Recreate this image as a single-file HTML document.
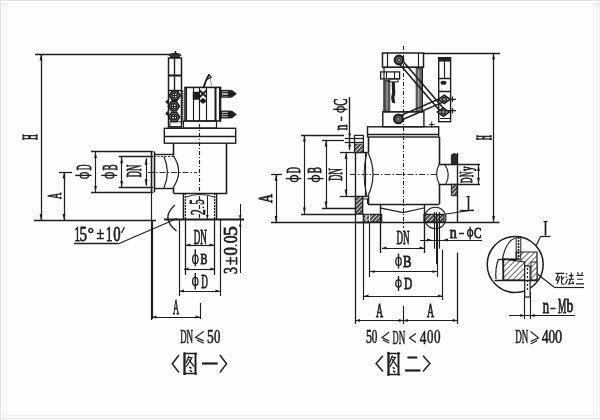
<!DOCTYPE html>
<html><head><meta charset="utf-8"><style>
html,body{margin:0;padding:0;background:#fdfdfd;}
svg{display:block;filter:grayscale(100%);}
</style></head><body>
<svg width="600" height="420" viewBox="0 0 600 420">
<rect x="0" y="0" width="600" height="420" fill="#fdfdfd"/>
<line x1="0" y1="0.5" x2="600" y2="0.5" stroke="#dcdcdc" stroke-width="1.00"/>
<line x1="0" y1="3.5" x2="600" y2="3.5" stroke="#f1f1f1" stroke-width="1.00"/>
<line x1="0" y1="6.5" x2="600" y2="6.5" stroke="#f3f3f3" stroke-width="1.00"/>
<line x1="0.5" y1="0" x2="0.5" y2="420" stroke="#e2e2e2" stroke-width="1.00"/>
<line x1="3.5" y1="0" x2="3.5" y2="420" stroke="#efefef" stroke-width="1.00"/>
<line x1="6.5" y1="0" x2="6.5" y2="420" stroke="#f2f2f2" stroke-width="1.00"/>
<line x1="593.5" y1="0" x2="593.5" y2="420" stroke="#f2f2f2" stroke-width="1.00"/>
<line x1="596.5" y1="0" x2="596.5" y2="420" stroke="#ececec" stroke-width="1.00"/>
<line x1="599.5" y1="0" x2="599.5" y2="420" stroke="#efefef" stroke-width="1.00"/>
<line x1="0" y1="415.5" x2="600" y2="415.5" stroke="#f2f2f2" stroke-width="1.00"/>
<line x1="0" y1="418.5" x2="600" y2="418.5" stroke="#ececec" stroke-width="1.00"/>
<defs><pattern id="hat2" patternUnits="userSpaceOnUse" width="3" height="3" patternTransform="rotate(45)"><rect width="3" height="3" fill="#444"/><line x1="1.5" y1="0" x2="1.5" y2="3" stroke="#e8e8e8" stroke-width="0.9"/></pattern></defs>
<line x1="35" y1="54.5" x2="170" y2="54.5" stroke="#1e1e1e" stroke-width="1.49"/>
<line x1="41.5" y1="54" x2="41.5" y2="220.5" stroke="#1e1e1e" stroke-width="1.26"/>
<path d="M41.00,54.00 L42.40,60.50 L39.60,60.50 Z" fill="#1e1e1e"/>
<path d="M41.00,220.50 L39.60,214.00 L42.40,214.00 Z" fill="#1e1e1e"/>
<text transform="translate(36.70,139.68) rotate(-90) scale(0.357,1)" font-family="Liberation Serif" font-size="20.46" fill="#1e1e1e" stroke="#1e1e1e" stroke-width="1.43">H</text>
<line x1="34" y1="220.5" x2="156" y2="220.5" stroke="#1e1e1e" stroke-width="1.49"/>
<line x1="59" y1="172.5" x2="72" y2="172.5" stroke="#1e1e1e" stroke-width="1.26"/>
<line x1="64.5" y1="172" x2="64.5" y2="220.5" stroke="#1e1e1e" stroke-width="1.26"/>
<path d="M64.00,172.00 L65.40,178.50 L62.60,178.50 Z" fill="#1e1e1e"/>
<path d="M64.00,220.50 L62.60,214.00 L65.40,214.00 Z" fill="#1e1e1e"/>
<text transform="translate(61.00,199.04) rotate(-90) scale(0.447,1)" font-family="Liberation Serif" font-size="19.85" fill="#1e1e1e" stroke="#1e1e1e" stroke-width="0.88">A</text>
<line x1="91" y1="151.5" x2="153" y2="151.5" stroke="#1e1e1e" stroke-width="1.38"/>
<line x1="91" y1="192.5" x2="153" y2="192.5" stroke="#1e1e1e" stroke-width="1.38"/>
<line x1="95.5" y1="151.4" x2="95.5" y2="192.4" stroke="#1e1e1e" stroke-width="1.15"/>
<path d="M95.50,151.40 L96.90,157.90 L94.10,157.90 Z" fill="#1e1e1e"/>
<path d="M95.50,192.40 L94.10,185.90 L96.90,185.90 Z" fill="#1e1e1e"/>
<text transform="translate(90.80,170.24) rotate(-90) scale(0.361,1)" font-family="Liberation Serif" font-size="21.98" fill="#1e1e1e" stroke="#1e1e1e" stroke-width="0.88">D</text>
<ellipse cx="84.40" cy="175.40" rx="4.20" ry="2.80" fill="none" stroke="#1e1e1e" stroke-width="1.3"/>
<line x1="75.2" y1="175.40" x2="91.6" y2="175.40" stroke="#1e1e1e" stroke-width="1.4"/>
<line x1="118.7" y1="156.5" x2="153" y2="156.5" stroke="#1e1e1e" stroke-width="1.38"/>
<line x1="118.7" y1="187.5" x2="153" y2="187.5" stroke="#1e1e1e" stroke-width="1.38"/>
<line x1="121.5" y1="156.7" x2="121.5" y2="187.4" stroke="#1e1e1e" stroke-width="1.15"/>
<path d="M121.70,156.70 L123.10,163.20 L120.30,163.20 Z" fill="#1e1e1e"/>
<path d="M121.70,187.40 L120.30,180.90 L123.10,180.90 Z" fill="#1e1e1e"/>
<text transform="translate(116.69,170.26) rotate(-90) scale(0.415,1)" font-family="Liberation Serif" font-size="21.21" fill="#1e1e1e" stroke="#1e1e1e" stroke-width="0.88">B</text>
<ellipse cx="109.60" cy="175.40" rx="4.20" ry="2.80" fill="none" stroke="#1e1e1e" stroke-width="1.3"/>
<line x1="101.2" y1="175.40" x2="117.2" y2="175.40" stroke="#1e1e1e" stroke-width="1.4"/>
<line x1="146.5" y1="158.3" x2="146.5" y2="185.7" stroke="#1e1e1e" stroke-width="1.15"/>
<path d="M146.00,158.30 L147.40,164.80 L144.60,164.80 Z" fill="#1e1e1e"/>
<path d="M146.00,185.70 L144.60,179.20 L147.40,179.20 Z" fill="#1e1e1e"/>
<text transform="translate(140.70,177.22) rotate(-90) scale(0.420,1)" font-family="Liberation Serif" font-size="20.46" fill="#1e1e1e" stroke="#1e1e1e" stroke-width="0.88">DN</text>
<line x1="151.5" y1="151.4" x2="151.5" y2="192.4" stroke="#1e1e1e" stroke-width="1.61"/>
<line x1="151.5" y1="192.4" x2="151.5" y2="320" stroke="#1e1e1e" stroke-width="1.15"/>
<line x1="154.5" y1="151.4" x2="154.5" y2="192.4" stroke="#1e1e1e" stroke-width="1.61"/>
<line x1="154" y1="154.5" x2="173.3" y2="154.5" stroke="#1e1e1e" stroke-width="1.38"/>
<line x1="154" y1="156.5" x2="173.3" y2="156.5" stroke="#1e1e1e" stroke-width="0.92" stroke-dasharray="2,1.5"/>
<line x1="154" y1="188.5" x2="173.3" y2="188.5" stroke="#1e1e1e" stroke-width="1.38"/>
<path d="M163.9,156.5 Q170.9,172.2 163.9,187.9" stroke="#1e1e1e" stroke-width="1.2" fill="none" />
<path d="M173.3,155.7 Q184,172 173.3,187.3" stroke="#1e1e1e" stroke-width="1.2" fill="none" />
<line x1="148" y1="172.5" x2="197" y2="172.5" stroke="#1e1e1e" stroke-width="0.92" stroke-dasharray="6,2,1.5,2"/>
<rect x="164.3" y="128.3" width="71.4" height="14.9" stroke="#1e1e1e" stroke-width="1.4" fill="none"/>
<line x1="164.3" y1="136.5" x2="235.7" y2="136.5" stroke="#1e1e1e" stroke-width="1.26"/>
<line x1="173.5" y1="143" x2="173.5" y2="155.5" stroke="#1e1e1e" stroke-width="1.61"/>
<line x1="173.5" y1="187.3" x2="173.5" y2="193" stroke="#1e1e1e" stroke-width="1.61"/>
<line x1="226.5" y1="143" x2="226.5" y2="193" stroke="#1e1e1e" stroke-width="1.61"/>
<line x1="173.3" y1="193.5" x2="227.3" y2="193.5" stroke="#1e1e1e" stroke-width="1.61"/>
<line x1="199.5" y1="124" x2="199.5" y2="220" stroke="#1e1e1e" stroke-width="1.15" stroke-dasharray="4,2,1,2"/>
<line x1="183.5" y1="193" x2="183.5" y2="219" stroke="#1e1e1e" stroke-width="1.61"/>
<line x1="185.5" y1="193" x2="185.5" y2="219" stroke="#1e1e1e" stroke-width="1.15" stroke-dasharray="2,1"/>
<line x1="216.5" y1="193" x2="216.5" y2="219" stroke="#1e1e1e" stroke-width="1.61"/>
<line x1="214.5" y1="193" x2="214.5" y2="219" stroke="#1e1e1e" stroke-width="1.15" stroke-dasharray="2,1"/>
<path d="M186,197 Q200,192 214,197" stroke="#1e1e1e" stroke-width="0.9" fill="none" />
<line x1="164" y1="219.5" x2="244" y2="219.5" stroke="#1e1e1e" stroke-width="1.84"/>
<line x1="207.5" y1="196" x2="207.5" y2="219" stroke="#1e1e1e" stroke-width="1.03"/>
<path d="M207.30,219.00 L205.90,215.00 L208.70,215.00 Z" fill="#1e1e1e"/>
<text transform="translate(204.40,204.84) rotate(-90) scale(0.526,1)" font-family="Liberation Serif" font-size="20.45" fill="#1e1e1e" stroke="#1e1e1e" stroke-width="0.77">5</text>
<circle cx="203.3" cy="207.3" r="0.9" fill="#1e1e1e"/>
<text transform="translate(204.60,214.92) rotate(-90) scale(0.558,1)" font-family="Liberation Serif" font-size="20.61" fill="#1e1e1e" stroke="#1e1e1e" stroke-width="0.77">2</text>
<line x1="240.5" y1="204" x2="240.5" y2="273" stroke="#1e1e1e" stroke-width="1.03"/>
<path d="M240.20,219.30 L238.80,215.30 L241.60,215.30 Z" fill="#1e1e1e"/>
<path d="M240.20,222.50 L241.60,226.50 L238.80,226.50 Z" fill="#1e1e1e"/>
<text transform="translate(237.21,236.07) rotate(-90) scale(1.005,1)" font-family="Liberation Serif" font-size="19.40" fill="#1e1e1e" stroke="#1e1e1e" stroke-width="0.77">5</text>
<text transform="translate(237.21,243.22) rotate(-90) scale(0.810,1)" font-family="Liberation Serif" font-size="19.11" fill="#1e1e1e" stroke="#1e1e1e" stroke-width="0.77">0</text>
<circle cx="236" cy="245.4" r="0.9" fill="#1e1e1e"/>
<text transform="translate(237.21,255.48) rotate(-90) scale(0.885,1)" font-family="Liberation Serif" font-size="19.11" fill="#1e1e1e" stroke="#1e1e1e" stroke-width="0.77">0</text>
<text transform="translate(236.50,265.01) rotate(-90) scale(0.822,1)" font-family="Liberation Serif" font-size="18.58" fill="#1e1e1e" stroke="#1e1e1e" stroke-width="0.66">±</text>
<text transform="translate(237.21,274.03) rotate(-90) scale(0.726,1)" font-family="Liberation Serif" font-size="19.25" fill="#1e1e1e" stroke="#1e1e1e" stroke-width="0.77">3</text>
<line x1="220.5" y1="219" x2="220.5" y2="296" stroke="#1e1e1e" stroke-width="1.15"/>
<line x1="185.5" y1="219" x2="185.5" y2="275" stroke="#1e1e1e" stroke-width="1.26"/>
<line x1="214.5" y1="219" x2="214.5" y2="275" stroke="#1e1e1e" stroke-width="1.26"/>
<line x1="179.5" y1="219" x2="179.5" y2="296" stroke="#1e1e1e" stroke-width="1.15"/>
<line x1="186" y1="245.5" x2="214" y2="245.5" stroke="#1e1e1e" stroke-width="1.15"/>
<path d="M186.00,245.00 L190.50,243.60 L190.50,246.40 Z" fill="#1e1e1e"/>
<path d="M214.00,245.00 L209.50,246.40 L209.50,243.60 Z" fill="#1e1e1e"/>
<text transform="translate(193.77,243.70) scale(0.445,1)" font-family="Liberation Serif" font-size="20.46" fill="#1e1e1e" stroke="#1e1e1e" stroke-width="0.88">DN</text>
<line x1="184" y1="269.5" x2="215" y2="269.5" stroke="#1e1e1e" stroke-width="1.15"/>
<path d="M184.00,269.00 L188.50,267.60 L188.50,270.40 Z" fill="#1e1e1e"/>
<path d="M215.00,269.00 L210.50,270.40 L210.50,267.60 Z" fill="#1e1e1e"/>
<text transform="translate(200.49,264.03) scale(0.734,1)" font-family="Liberation Serif" font-size="14.09" fill="#1e1e1e" stroke="#1e1e1e" stroke-width="0.88">B</text>
<ellipse cx="195.30" cy="259.15" rx="2.70" ry="4.35" fill="none" stroke="#1e1e1e" stroke-width="1.3"/>
<line x1="195.30" y1="249.3" x2="195.30" y2="266.3" stroke="#1e1e1e" stroke-width="1.4"/>
<line x1="179.5" y1="291.5" x2="220" y2="291.5" stroke="#1e1e1e" stroke-width="1.15"/>
<path d="M179.50,291.00 L184.00,289.60 L184.00,292.40 Z" fill="#1e1e1e"/>
<path d="M220.00,291.00 L215.50,292.40 L215.50,289.60 Z" fill="#1e1e1e"/>
<text transform="translate(201.13,287.80) scale(0.472,1)" font-family="Liberation Serif" font-size="19.39" fill="#1e1e1e" stroke="#1e1e1e" stroke-width="0.88">D</text>
<ellipse cx="195.30" cy="281.45" rx="2.70" ry="4.05" fill="none" stroke="#1e1e1e" stroke-width="1.3"/>
<line x1="195.30" y1="272.9" x2="195.30" y2="289.4" stroke="#1e1e1e" stroke-width="1.4"/>
<line x1="152.5" y1="220" x2="152.5" y2="319" stroke="#1e1e1e" stroke-width="1.15"/>
<line x1="200.5" y1="303" x2="200.5" y2="319" stroke="#1e1e1e" stroke-width="1.15"/>
<line x1="152" y1="317.5" x2="200" y2="317.5" stroke="#1e1e1e" stroke-width="1.15"/>
<path d="M152.00,317.00 L156.50,315.60 L156.50,318.40 Z" fill="#1e1e1e"/>
<path d="M200.00,317.00 L195.50,318.40 L195.50,315.60 Z" fill="#1e1e1e"/>
<text transform="translate(172.96,314.00) scale(0.395,1)" font-family="Liberation Serif" font-size="21.37" fill="#1e1e1e" stroke="#1e1e1e" stroke-width="0.88">A</text>
<text transform="translate(74.54,241.00) scale(0.539,1)" font-family="Liberation Serif" font-size="20.91" fill="#1e1e1e" stroke="#1e1e1e" stroke-width="0.77">1</text>
<text transform="translate(79.60,240.99) scale(0.713,1)" font-family="Liberation Serif" font-size="21.05" fill="#1e1e1e" stroke="#1e1e1e" stroke-width="0.77">5</text>
<text transform="translate(87.81,237.81) scale(1.044,1)" font-family="Liberation Serif" font-size="14.75" fill="#1e1e1e" stroke="#1e1e1e" stroke-width="0.66">°</text>
<text transform="translate(96.44,239.00) scale(0.878,1)" font-family="Liberation Serif" font-size="15.93" fill="#1e1e1e" stroke="#1e1e1e" stroke-width="0.66">±</text>
<text transform="translate(105.92,241.00) scale(0.606,1)" font-family="Liberation Serif" font-size="20.91" fill="#1e1e1e" stroke="#1e1e1e" stroke-width="0.77">1</text>
<text transform="translate(113.21,240.99) scale(0.712,1)" font-family="Liberation Serif" font-size="20.74" fill="#1e1e1e" stroke="#1e1e1e" stroke-width="0.77">0</text>
<path d="M124.5,227 L121.5,233" stroke="#1e1e1e" stroke-width="1.3" fill="none" />
<line x1="74" y1="243.5" x2="118.5" y2="243.5" stroke="#1e1e1e" stroke-width="1.26"/>
<line x1="118.5" y1="243.8" x2="177" y2="218.5" stroke="#1e1e1e" stroke-width="1.15"/>
<path d="M175,205 Q160,218 176.5,231" stroke="#1e1e1e" stroke-width="1.4" fill="none" />
<text transform="translate(180.13,342.80) scale(0.483,1)" font-family="Liberation Serif" font-size="18.32" fill="#1e1e1e" stroke="#1e1e1e" stroke-width="0.62">D</text>
<text transform="translate(186.53,342.80) scale(0.497,1)" font-family="Liberation Serif" font-size="18.32" fill="#1e1e1e" stroke="#1e1e1e" stroke-width="0.62">N</text>
<path d="M203.70,331.50 L195.60,337.35 L203.70,340.86 M196.81,339.92 L203.70,343.20" stroke="#1e1e1e" stroke-width="1.2" fill="none" />
<text transform="translate(207.09,342.82) scale(0.736,1)" font-family="Liberation Serif" font-size="18.35" fill="#1e1e1e" stroke="#1e1e1e" stroke-width="0.62">5</text>
<text transform="translate(214.09,342.82) scale(0.711,1)" font-family="Liberation Serif" font-size="18.07" fill="#1e1e1e" stroke="#1e1e1e" stroke-width="0.62">0</text>
<rect x="168.5" y="58" width="13" height="69" stroke="#1e1e1e" stroke-width="1.5" fill="none"/>
<line x1="174.5" y1="58" x2="174.5" y2="90.3" stroke="#1e1e1e" stroke-width="1.38"/>
<line x1="168.5" y1="75.5" x2="181.5" y2="75.5" stroke="#1e1e1e" stroke-width="2.07"/>
<line x1="168.5" y1="90.5" x2="181.5" y2="90.5" stroke="#1e1e1e" stroke-width="1.38"/>
<path d="M170.5,57.5 L171,54 Q175,52 179,54 L179.5,57.5 Z" stroke="#1e1e1e" stroke-width="1.0" fill="#333" />
<path d="M169,56 L170.5,53.5 M181,56 L179.5,53.5" stroke="#1e1e1e" stroke-width="1.2" fill="none" />
<line x1="175.5" y1="51" x2="175.5" y2="54" stroke="#1e1e1e" stroke-width="1.38"/>
<path d="M169.3,95.5 L172.3,90.9 L177.3,90.9 L180.3,95.5 L177.3,100.1 L172.3,100.1 Z" stroke="#1e1e1e" stroke-width="1.6" fill="#777" />
<circle cx="174.8" cy="95.5" r="2.6" stroke="#1e1e1e" stroke-width="1.3" fill="#eee"/>
<line x1="172.60000000000002" y1="95.5" x2="177.0" y2="95.5" stroke="#1e1e1e" stroke-width="1.03"/>
<line x1="174.5" y1="93.3" x2="174.5" y2="97.7" stroke="#1e1e1e" stroke-width="1.03"/>
<path d="M168.4,106.2 L171.4,101.60000000000001 L176.4,101.60000000000001 L179.4,106.2 L176.4,110.8 L171.4,110.8 Z" stroke="#1e1e1e" stroke-width="1.6" fill="#777" />
<circle cx="173.9" cy="106.2" r="2.6" stroke="#1e1e1e" stroke-width="1.3" fill="#eee"/>
<line x1="171.70000000000002" y1="106.5" x2="176.1" y2="106.5" stroke="#1e1e1e" stroke-width="1.03"/>
<line x1="173.5" y1="104.0" x2="173.5" y2="108.4" stroke="#1e1e1e" stroke-width="1.03"/>
<path d="M168.7,116.9 L171.7,112.30000000000001 L176.7,112.30000000000001 L179.7,116.9 L176.7,121.5 L171.7,121.5 Z" stroke="#1e1e1e" stroke-width="1.6" fill="#777" />
<circle cx="174.2" cy="116.9" r="2.6" stroke="#1e1e1e" stroke-width="1.3" fill="#eee"/>
<line x1="172.0" y1="116.5" x2="176.39999999999998" y2="116.5" stroke="#1e1e1e" stroke-width="1.03"/>
<line x1="174.5" y1="114.7" x2="174.5" y2="119.10000000000001" stroke="#1e1e1e" stroke-width="1.03"/>
<path d="M168.5,99 L165.5,102 L168.5,104.5 Z" stroke="#1e1e1e" stroke-width="0.6" fill="#1e1e1e" />
<path d="M168.5,110.5 L165.5,113.5 L168.5,116 Z" stroke="#1e1e1e" stroke-width="0.6" fill="#1e1e1e" />
<line x1="182.5" y1="90.6" x2="182.5" y2="123.4" stroke="#1e1e1e" stroke-width="1.84" stroke-dasharray="1.5,0.8"/>
<rect x="170" y="121.8" width="11.5" height="5" stroke="#1e1e1e" stroke-width="0.9" fill="none"/>
<rect x="185" y="87.4" width="35.5" height="33.6" stroke="#1e1e1e" stroke-width="1.6" fill="none"/>
<line x1="186.5" y1="87.4" x2="186.5" y2="121" stroke="#1e1e1e" stroke-width="1.15"/>
<line x1="193.5" y1="87.4" x2="193.5" y2="121" stroke="#1e1e1e" stroke-width="1.15"/>
<line x1="199.5" y1="87.4" x2="199.5" y2="121" stroke="#1e1e1e" stroke-width="1.15"/>
<line x1="206.5" y1="87.4" x2="206.5" y2="121" stroke="#1e1e1e" stroke-width="1.15"/>
<line x1="219.5" y1="87.4" x2="219.5" y2="121" stroke="#1e1e1e" stroke-width="1.15"/>
<line x1="215.5" y1="87.4" x2="215.5" y2="121" stroke="#1e1e1e" stroke-width="2.07"/>
<path d="M193.1,92 L199.8,92 L199.8,99.5 L193.1,99.5 Z" stroke="#1e1e1e" stroke-width="0.5" fill="#1e1e1e" />
<path d="M199.8,90.5 L206.4,97 M206.4,90.5 L199.8,97" stroke="#1e1e1e" stroke-width="1.8" fill="none" />
<path d="M203.1,98.3 L206.4,100.9 L203.1,103.5 L199.8,100.9 Z" stroke="#1e1e1e" stroke-width="0.8" fill="#1e1e1e" />
<rect x="183.5" y="121" width="33" height="7" stroke="#1e1e1e" stroke-width="1.2" fill="none"/>
<path d="M203.6,87.4 L206,80.5 L209.2,74.2" stroke="#1e1e1e" stroke-width="1.9" fill="none" />
<path d="M206.5,79.5 L211.8,76.8 M209.2,74.5 L211.2,77.5" stroke="#1e1e1e" stroke-width="1.3" fill="none" />
<path d="M210.2,77 L211.5,86.5" stroke="#777" stroke-width="0.8" fill="none" />
<rect x="221.5" y="90.5" width="7" height="6.6" stroke="#1e1e1e" stroke-width="1.3" fill="#bbb"/>
<path d="M228.5,90.3 L232,90.3 L236.5,93.8 L232,97.3 L228.5,97.3 Z" stroke="#1e1e1e" stroke-width="0.6" fill="#1e1e1e" />
<line x1="222.5" y1="92.5" x2="228" y2="92.5" stroke="#1e1e1e" stroke-width="1.15"/>
<line x1="222.5" y1="95.5" x2="228" y2="95.5" stroke="#1e1e1e" stroke-width="1.15"/>
<rect x="221.5" y="111.2" width="7" height="6.6" stroke="#1e1e1e" stroke-width="1.3" fill="#bbb"/>
<path d="M228.5,111.0 L232,111.0 L236.5,114.5 L232,118.0 L228.5,118.0 Z" stroke="#1e1e1e" stroke-width="0.6" fill="#1e1e1e" />
<line x1="222.5" y1="113.5" x2="228" y2="113.5" stroke="#1e1e1e" stroke-width="1.15"/>
<line x1="222.5" y1="115.5" x2="228" y2="115.5" stroke="#1e1e1e" stroke-width="1.15"/>
<line x1="424" y1="53.5" x2="500" y2="53.5" stroke="#1e1e1e" stroke-width="1.49"/>
<line x1="493.5" y1="53" x2="493.5" y2="222.4" stroke="#1e1e1e" stroke-width="1.26"/>
<path d="M493.60,53.00 L495.00,59.50 L492.20,59.50 Z" fill="#1e1e1e"/>
<path d="M493.60,222.40 L492.20,215.90 L495.00,215.90 Z" fill="#1e1e1e"/>
<line x1="446" y1="222.5" x2="499.5" y2="222.5" stroke="#1e1e1e" stroke-width="1.26"/>
<text transform="translate(490.50,140.06) rotate(-90) scale(0.318,1)" font-family="Liberation Serif" font-size="20.15" fill="#1e1e1e" stroke="#1e1e1e" stroke-width="1.43">H</text>
<line x1="301" y1="135.5" x2="344" y2="135.5" stroke="#1e1e1e" stroke-width="1.26"/>
<line x1="301" y1="214.5" x2="356" y2="214.5" stroke="#1e1e1e" stroke-width="1.26"/>
<line x1="304.5" y1="135" x2="304.5" y2="214" stroke="#1e1e1e" stroke-width="1.15"/>
<path d="M304.40,135.00 L305.80,141.50 L303.00,141.50 Z" fill="#1e1e1e"/>
<path d="M304.40,214.00 L303.00,207.50 L305.80,207.50 Z" fill="#1e1e1e"/>
<text transform="translate(299.70,173.15) rotate(-90) scale(0.447,1)" font-family="Liberation Serif" font-size="18.78" fill="#1e1e1e" stroke="#1e1e1e" stroke-width="0.88">D</text>
<ellipse cx="294.30" cy="178.60" rx="3.70" ry="3.10" fill="none" stroke="#1e1e1e" stroke-width="1.3"/>
<line x1="285.7" y1="178.60" x2="301.4" y2="178.60" stroke="#1e1e1e" stroke-width="1.4"/>
<line x1="322" y1="140.5" x2="344" y2="140.5" stroke="#1e1e1e" stroke-width="1.26"/>
<line x1="322" y1="208.5" x2="356" y2="208.5" stroke="#1e1e1e" stroke-width="1.26"/>
<line x1="326.5" y1="140" x2="326.5" y2="208" stroke="#1e1e1e" stroke-width="1.15"/>
<path d="M326.00,140.00 L327.40,146.50 L324.60,146.50 Z" fill="#1e1e1e"/>
<path d="M326.00,208.00 L324.60,201.50 L327.40,201.50 Z" fill="#1e1e1e"/>
<text transform="translate(320.91,173.28) rotate(-90) scale(0.513,1)" font-family="Liberation Serif" font-size="18.18" fill="#1e1e1e" stroke="#1e1e1e" stroke-width="0.88">B</text>
<ellipse cx="315.75" cy="178.60" rx="3.65" ry="3.10" fill="none" stroke="#1e1e1e" stroke-width="1.3"/>
<line x1="307.5" y1="178.60" x2="323.5" y2="178.60" stroke="#1e1e1e" stroke-width="1.4"/>
<line x1="340" y1="152.5" x2="362" y2="152.5" stroke="#1e1e1e" stroke-width="1.26"/>
<line x1="340" y1="196.5" x2="356" y2="196.5" stroke="#1e1e1e" stroke-width="1.26"/>
<line x1="346.5" y1="152.6" x2="346.5" y2="196" stroke="#1e1e1e" stroke-width="1.15"/>
<path d="M346.00,152.60 L347.40,159.10 L344.60,159.10 Z" fill="#1e1e1e"/>
<path d="M346.00,196.00 L344.60,189.50 L347.40,189.50 Z" fill="#1e1e1e"/>
<text transform="translate(342.00,180.72) rotate(-90) scale(0.470,1)" font-family="Liberation Serif" font-size="18.32" fill="#1e1e1e" stroke="#1e1e1e" stroke-width="0.88">DN</text>
<line x1="271" y1="174.5" x2="282" y2="174.5" stroke="#1e1e1e" stroke-width="1.26"/>
<line x1="276.5" y1="174.2" x2="276.5" y2="222.4" stroke="#1e1e1e" stroke-width="1.15"/>
<path d="M276.00,174.20 L277.40,180.70 L274.60,180.70 Z" fill="#1e1e1e"/>
<path d="M276.00,222.40 L274.60,215.90 L277.40,215.90 Z" fill="#1e1e1e"/>
<line x1="271" y1="222.5" x2="370" y2="222.5" stroke="#1e1e1e" stroke-width="1.38"/>
<text transform="translate(272.00,203.06) rotate(-90) scale(0.692,1)" font-family="Liberation Serif" font-size="18.32" fill="#1e1e1e" stroke="#1e1e1e" stroke-width="0.88">A</text>
<line x1="349.5" y1="97" x2="349.5" y2="150" stroke="#1e1e1e" stroke-width="1.38"/>
<path d="M349.70,137.50 L348.30,133.50 L351.10,133.50 Z" fill="#1e1e1e"/>
<path d="M349.70,142.50 L351.10,146.50 L348.30,146.50 Z" fill="#1e1e1e"/>
<text transform="translate(346.70,130.23) rotate(-90) scale(0.582,1)" font-family="Liberation Serif" font-size="19.57" fill="#1e1e1e" stroke="#1e1e1e" stroke-width="0.88">n</text>
<line x1="341.5" y1="116.5" x2="341.5" y2="121" stroke="#1e1e1e" stroke-width="1.49"/>
<ellipse cx="340.75" cy="109.35" rx="3.65" ry="2.75" fill="none" stroke="#1e1e1e" stroke-width="1.3"/>
<line x1="333.3" y1="109.35" x2="347.3" y2="109.35" stroke="#1e1e1e" stroke-width="1.4"/>
<text transform="translate(346.51,105.72) rotate(-90) scale(0.555,1)" font-family="Liberation Serif" font-size="18.96" fill="#1e1e1e" stroke="#1e1e1e" stroke-width="0.88">C</text>
<path d="M354.5,135.4 H363.4 V152.5 H354.5 Z" stroke="#1e1e1e" stroke-width="1.3" fill="#fdfdfd" />
<path d="M354.8,144 H363 V152.2 H354.8 Z" stroke="#1e1e1e" stroke-width="0.5" fill="url(#hat2)" />
<line x1="344.7" y1="138.5" x2="363.4" y2="138.5" stroke="#1e1e1e" stroke-width="1.26"/>
<line x1="344.7" y1="142.5" x2="363.4" y2="142.5" stroke="#1e1e1e" stroke-width="1.26"/>
<path d="M355.4,196.3 H362.7 V214 H355.4 Z" stroke="#1e1e1e" stroke-width="1.3" fill="url(#hat2)" />
<line x1="355.5" y1="153" x2="355.5" y2="196.3" stroke="#1e1e1e" stroke-width="1.38"/>
<line x1="365.5" y1="153" x2="365.5" y2="196.3" stroke="#1e1e1e" stroke-width="1.15"/>
<line x1="363.3" y1="152.5" x2="367.5" y2="152.5" stroke="#1e1e1e" stroke-width="1.38"/>
<line x1="362.7" y1="196.5" x2="367.5" y2="196.5" stroke="#1e1e1e" stroke-width="1.38"/>
<path d="M367,152.6 Q361,174.4 367,196" stroke="#1e1e1e" stroke-width="1.0" fill="none" />
<path d="M368,152.6 Q378,174.4 368,196" stroke="#1e1e1e" stroke-width="1.2" fill="none" />
<path d="M362.7,199 H367.6 V204" stroke="#1e1e1e" stroke-width="1.2" fill="none" />
<line x1="350" y1="174.5" x2="438" y2="174.5" stroke="#1e1e1e" stroke-width="0.92" stroke-dasharray="6,2,1.5,2"/>
<line x1="403.5" y1="46" x2="403.5" y2="228" stroke="#1e1e1e" stroke-width="1.03" stroke-dasharray="4,2,1,2"/>
<rect x="367.5" y="126.8" width="71.2" height="10.2" stroke="#1e1e1e" stroke-width="1.4" fill="none"/>
<line x1="367.5" y1="134.5" x2="438.7" y2="134.5" stroke="#1e1e1e" stroke-width="1.26"/>
<line x1="368.5" y1="137" x2="368.5" y2="152.6" stroke="#1e1e1e" stroke-width="1.61"/>
<line x1="368.5" y1="196" x2="368.5" y2="204" stroke="#1e1e1e" stroke-width="1.61"/>
<line x1="439.5" y1="137" x2="439.5" y2="164" stroke="#1e1e1e" stroke-width="1.61"/>
<line x1="439.5" y1="184.7" x2="439.5" y2="204" stroke="#1e1e1e" stroke-width="1.61"/>
<line x1="368" y1="204.5" x2="439.3" y2="204.5" stroke="#1e1e1e" stroke-width="1.61"/>
<line x1="438.6" y1="164.5" x2="480" y2="164.5" stroke="#1e1e1e" stroke-width="1.38"/>
<line x1="438.6" y1="184.5" x2="480" y2="184.5" stroke="#1e1e1e" stroke-width="1.26"/>
<path d="M439.3,164 Q434,174 439.3,184.3" stroke="#1e1e1e" stroke-width="1.1" fill="none" />
<path d="M444.3,164 C449,170 449.5,178 445.7,184.3" stroke="#1e1e1e" stroke-width="1.1" fill="none" />
<path d="M451.4,163.6 V155 Q454.2,152 457.1,155 V163.6 Z" stroke="#1e1e1e" stroke-width="1.0" fill="#2a2a2a" />
<path d="M451.4,184.3 H457.1 V195.7 H451.4 Z" stroke="#1e1e1e" stroke-width="1.0" fill="url(#hat2)" />
<line x1="457.5" y1="153" x2="457.5" y2="222.4" stroke="#1e1e1e" stroke-width="1.38"/>
<line x1="478.5" y1="164.6" x2="478.5" y2="184.3" stroke="#1e1e1e" stroke-width="1.15"/>
<path d="M478.50,164.60 L479.90,171.10 L477.10,171.10 Z" fill="#1e1e1e"/>
<path d="M478.50,184.30 L477.10,177.80 L479.90,177.80 Z" fill="#1e1e1e"/>
<text transform="translate(472.30,182.93) rotate(-90) scale(0.472,1)" font-family="Liberation Serif" font-size="16.18" fill="#1e1e1e" stroke="#1e1e1e" stroke-width="0.88">D</text>
<text transform="translate(473.30,176.92) rotate(-90) scale(0.397,1)" font-family="Liberation Serif" font-size="18.78" fill="#1e1e1e" stroke="#1e1e1e" stroke-width="0.88">N</text>
<text transform="translate(472.40,171.09) rotate(-90) scale(0.554,1)" font-family="Liberation Serif" font-size="16.74" fill="#1e1e1e" stroke="#1e1e1e" stroke-width="0.88">y</text>
<path d="M363.3,214.4 H381.7 V222 H363.3 Z" stroke="#1e1e1e" stroke-width="1.2" fill="url(#hat2)" />
<path d="M424,214.4 H444 V222 H424 Z" stroke="#1e1e1e" stroke-width="1.2" fill="url(#hat2)" />
<line x1="366" y1="214.6" x2="366" y2="221.8" stroke="#eee" stroke-width="1.00"/>
<line x1="369.5" y1="214.6" x2="369.5" y2="221.8" stroke="#eee" stroke-width="1.00"/>
<line x1="355.5" y1="222.5" x2="446" y2="222.5" stroke="#1e1e1e" stroke-width="1.49"/>
<line x1="380.5" y1="204" x2="380.5" y2="253" stroke="#1e1e1e" stroke-width="1.38"/>
<line x1="424.5" y1="204" x2="424.5" y2="253" stroke="#1e1e1e" stroke-width="1.38"/>
<path d="M381,208.1 L403,212.6 L425,207.7" stroke="#1e1e1e" stroke-width="1.1" fill="none" />
<line x1="382" y1="248.5" x2="424" y2="248.5" stroke="#1e1e1e" stroke-width="1.15"/>
<path d="M382.00,248.00 L386.50,246.60 L386.50,249.40 Z" fill="#1e1e1e"/>
<path d="M424.00,248.00 L419.50,249.40 L419.50,246.60 Z" fill="#1e1e1e"/>
<text transform="translate(396.58,244.30) scale(0.470,1)" font-family="Liberation Serif" font-size="19.08" fill="#1e1e1e" stroke="#1e1e1e" stroke-width="0.88">DN</text>
<line x1="369.5" y1="222" x2="369.5" y2="277" stroke="#1e1e1e" stroke-width="1.15"/>
<line x1="437.5" y1="222" x2="437.5" y2="277" stroke="#1e1e1e" stroke-width="1.15"/>
<line x1="370" y1="271.5" x2="437" y2="271.5" stroke="#1e1e1e" stroke-width="1.15"/>
<path d="M370.00,271.60 L374.50,270.20 L374.50,273.00 Z" fill="#1e1e1e"/>
<path d="M437.00,271.60 L432.50,273.00 L432.50,270.20 Z" fill="#1e1e1e"/>
<text transform="translate(403.12,266.72) scale(0.777,1)" font-family="Liberation Serif" font-size="16.36" fill="#1e1e1e" stroke="#1e1e1e" stroke-width="0.88">B</text>
<ellipse cx="398.50" cy="261.40" rx="2.70" ry="4.00" fill="none" stroke="#1e1e1e" stroke-width="1.3"/>
<line x1="398.50" y1="253.5" x2="398.50" y2="268.5" stroke="#1e1e1e" stroke-width="1.4"/>
<line x1="363.5" y1="222" x2="363.5" y2="300" stroke="#1e1e1e" stroke-width="1.15"/>
<line x1="442.5" y1="249.6" x2="442.5" y2="300" stroke="#1e1e1e" stroke-width="1.15"/>
<line x1="364" y1="296.5" x2="442.4" y2="296.5" stroke="#1e1e1e" stroke-width="1.15"/>
<path d="M364.00,296.00 L368.50,294.60 L368.50,297.40 Z" fill="#1e1e1e"/>
<path d="M442.40,296.00 L437.90,297.40 L437.90,294.60 Z" fill="#1e1e1e"/>
<text transform="translate(403.96,289.30) scale(0.647,1)" font-family="Liberation Serif" font-size="17.71" fill="#1e1e1e" stroke="#1e1e1e" stroke-width="0.88">D</text>
<ellipse cx="398.50" cy="283.50" rx="2.70" ry="3.60" fill="none" stroke="#1e1e1e" stroke-width="1.3"/>
<line x1="398.50" y1="276" x2="398.50" y2="291" stroke="#1e1e1e" stroke-width="1.4"/>
<line x1="355.5" y1="214" x2="355.5" y2="324" stroke="#1e1e1e" stroke-width="1.26"/>
<line x1="457.5" y1="252.5" x2="457.5" y2="324" stroke="#1e1e1e" stroke-width="1.26"/>
<line x1="403.5" y1="306" x2="403.5" y2="324" stroke="#1e1e1e" stroke-width="1.15"/>
<line x1="355.5" y1="320.5" x2="457.3" y2="320.5" stroke="#1e1e1e" stroke-width="1.15"/>
<path d="M355.50,320.50 L360.00,319.10 L360.00,321.90 Z" fill="#1e1e1e"/>
<path d="M457.30,320.50 L452.80,321.90 L452.80,319.10 Z" fill="#1e1e1e"/>
<path d="M403.30,320.50 L398.80,321.90 L398.80,319.10 Z" fill="#1e1e1e"/>
<path d="M403.30,320.50 L407.80,319.10 L407.80,321.90 Z" fill="#1e1e1e"/>
<text transform="translate(375.95,317.00) scale(0.497,1)" font-family="Liberation Serif" font-size="19.85" fill="#1e1e1e" stroke="#1e1e1e" stroke-width="0.88">A</text>
<text transform="translate(426.95,317.00) scale(0.497,1)" font-family="Liberation Serif" font-size="19.85" fill="#1e1e1e" stroke="#1e1e1e" stroke-width="0.88">A</text>
<circle cx="435.3" cy="218" r="10.7" stroke="#1e1e1e" stroke-width="1.1" fill="none"/>
<line x1="434.5" y1="212" x2="434.5" y2="248.7" stroke="#1e1e1e" stroke-width="1.15"/>
<line x1="439.5" y1="212" x2="439.5" y2="248.7" stroke="#1e1e1e" stroke-width="1.15"/>
<line x1="436.5" y1="212" x2="436.5" y2="264" stroke="#1e1e1e" stroke-width="1.03"/>
<line x1="437.5" y1="244" x2="437.5" y2="264" stroke="#1e1e1e" stroke-width="1.03"/>
<line x1="446" y1="214" x2="473.3" y2="210" stroke="#1e1e1e" stroke-width="1.15"/>
<line x1="468.5" y1="196.5" x2="468.5" y2="210.5" stroke="#1e1e1e" stroke-width="1.61"/>
<line x1="466.3" y1="196.5" x2="469.7" y2="196.5" stroke="#1e1e1e" stroke-width="1.15"/>
<line x1="460" y1="210.5" x2="474" y2="210.5" stroke="#1e1e1e" stroke-width="1.26"/>
<line x1="420" y1="240.5" x2="482" y2="240.5" stroke="#1e1e1e" stroke-width="1.15"/>
<path d="M432.00,240.00 L427.00,241.40 L427.00,238.60 Z" fill="#1e1e1e"/>
<path d="M443.00,240.00 L448.00,238.60 L448.00,241.40 Z" fill="#1e1e1e"/>
<text transform="translate(449.72,237.70) scale(0.801,1)" font-family="Liberation Serif" font-size="17.45" fill="#1e1e1e" stroke="#1e1e1e" stroke-width="0.88">n</text>
<line x1="459" y1="233.5" x2="464" y2="233.5" stroke="#1e1e1e" stroke-width="1.49"/>
<ellipse cx="470.15" cy="233.00" rx="2.55" ry="3.40" fill="none" stroke="#1e1e1e" stroke-width="1.3"/>
<line x1="470.15" y1="226.7" x2="470.15" y2="239.5" stroke="#1e1e1e" stroke-width="1.4"/>
<text transform="translate(474.06,237.54) scale(0.712,1)" font-family="Liberation Serif" font-size="15.52" fill="#1e1e1e" stroke="#1e1e1e" stroke-width="0.88">C</text>
<text transform="translate(366.08,343.41) scale(0.623,1)" font-family="Liberation Serif" font-size="19.25" fill="#1e1e1e" stroke="#1e1e1e" stroke-width="0.62">5</text>
<text transform="translate(371.85,343.41) scale(0.590,1)" font-family="Liberation Serif" font-size="18.96" fill="#1e1e1e" stroke="#1e1e1e" stroke-width="0.62">0</text>
<path d="M389.30,332.00 L382.00,337.60 L389.30,340.96 M383.10,340.06 L389.30,343.20" stroke="#1e1e1e" stroke-width="1.2" fill="none" />
<text transform="translate(392.45,343.50) scale(0.433,1)" font-family="Liberation Serif" font-size="19.39" fill="#1e1e1e" stroke="#1e1e1e" stroke-width="0.62">D</text>
<text transform="translate(398.63,343.50) scale(0.470,1)" font-family="Liberation Serif" font-size="19.39" fill="#1e1e1e" stroke="#1e1e1e" stroke-width="0.62">N</text>
<path d="M416,333.5 L409.5,338 L416,342.5" stroke="#1e1e1e" stroke-width="1.2" fill="none" />
<text transform="translate(419.73,343.60) scale(0.687,1)" font-family="Liberation Serif" font-size="19.39" fill="#1e1e1e" stroke="#1e1e1e" stroke-width="0.62">4</text>
<text transform="translate(427.09,343.41) scale(0.678,1)" font-family="Liberation Serif" font-size="18.96" fill="#1e1e1e" stroke="#1e1e1e" stroke-width="0.62">0</text>
<text transform="translate(433.88,343.41) scale(0.691,1)" font-family="Liberation Serif" font-size="18.96" fill="#1e1e1e" stroke="#1e1e1e" stroke-width="0.62">0</text>
<rect x="382.5" y="53" width="41" height="14.3" stroke="#1e1e1e" stroke-width="1.5" fill="none"/>
<line x1="387.5" y1="53" x2="387.5" y2="67.3" stroke="#1e1e1e" stroke-width="1.15"/>
<line x1="418.5" y1="53" x2="418.5" y2="67.3" stroke="#1e1e1e" stroke-width="1.15"/>
<rect x="384" y="67.3" width="38.4" height="44.5" stroke="#1e1e1e" stroke-width="1.2" fill="none"/>
<path d="M384.2,80 L389.9,80 L389.9,111.8 L384.2,111.8 Z" stroke="#1e1e1e" stroke-width="0.5" fill="#555" />
<line x1="387" y1="82" x2="387" y2="110" stroke="#ccc" stroke-width="0.80"/>
<path d="M416,68 L421.7,68 L421.7,111.8 L416,111.8 Z" stroke="#1e1e1e" stroke-width="0.5" fill="#666" />
<line x1="418.8" y1="70" x2="418.8" y2="110" stroke="#ccc" stroke-width="0.80"/>
<rect x="382.8" y="111.8" width="41.1" height="14.9" stroke="#1e1e1e" stroke-width="1.4" fill="none"/>
<rect x="380.6" y="71.9" width="19" height="7" stroke="#1e1e1e" stroke-width="1.3" fill="none"/>
<line x1="386.5" y1="71.9" x2="386.5" y2="78.9" stroke="#1e1e1e" stroke-width="1.03"/>
<line x1="394.5" y1="71.9" x2="394.5" y2="78.9" stroke="#1e1e1e" stroke-width="1.03"/>
<rect x="389" y="78.9" width="9" height="3" stroke="#1e1e1e" stroke-width="1.0" fill="none"/>
<path d="M393.5,82 C392.5,88 395,92 393,96 C392,99 394,101 393.5,103" stroke="#1e1e1e" stroke-width="3.2" fill="none" />
<path d="M397.33,61.44 L441.33,112.54 M400.67,58.56 L444.67,109.66" stroke="#1e1e1e" stroke-width="1.6" fill="none" />
<path d="M399.27,120.92 L445.27,101.12 M397.53,116.88 L443.53,97.08" stroke="#1e1e1e" stroke-width="1.6" fill="none" />
<rect x="438.7" y="57.7" width="11.9" height="64" stroke="#1e1e1e" stroke-width="1.4" fill="none"/>
<path d="M438.7,57.7 L450.6,57.7 L450.6,61.3 L438.7,61.3 Z" stroke="#1e1e1e" stroke-width="0.5" fill="#222" />
<line x1="444.5" y1="61" x2="444.5" y2="78" stroke="#1e1e1e" stroke-width="1.15"/>
<line x1="438.7" y1="78.5" x2="450.6" y2="78.5" stroke="#1e1e1e" stroke-width="1.49"/>
<line x1="438.7" y1="91.5" x2="450.6" y2="91.5" stroke="#1e1e1e" stroke-width="1.49"/>
<line x1="440" y1="118.5" x2="450" y2="118.5" stroke="#1e1e1e" stroke-width="1.03"/>
<ellipse cx="443.5" cy="82.8" rx="3" ry="2" fill="#222"/>
<circle cx="399" cy="60" r="4.3" stroke="#1e1e1e" stroke-width="2.2" fill="#666"/>
<circle cx="399" cy="60" r="1.5" stroke="#1e1e1e" stroke-width="0.9" fill="#bbb"/>
<circle cx="398.4" cy="118.9" r="4.3" stroke="#1e1e1e" stroke-width="2.2" fill="#666"/>
<circle cx="398.4" cy="118.9" r="1.5" stroke="#1e1e1e" stroke-width="0.9" fill="#bbb"/>
<path d="M438.3,99.3 L444.3,95.1 L450.3,99.3 L444.3,103.5 Z" stroke="#1e1e1e" stroke-width="1.5" fill="#999" />
<circle cx="444.3" cy="99.3" r="2" stroke="#1e1e1e" stroke-width="1.2" fill="none"/>
<path d="M437.3,112.1 L443.3,107.89999999999999 L449.3,112.1 L443.3,116.3 Z" stroke="#1e1e1e" stroke-width="1.5" fill="#999" />
<circle cx="443.3" cy="112.1" r="2" stroke="#1e1e1e" stroke-width="1.2" fill="none"/>
<path d="M449,99.3 H456 M452.5,96.5 V102 M448,110.7 H456 M452.5,108 V113.5" stroke="#1e1e1e" stroke-width="1.2" fill="none" />
<path d="M431.7,121.5 V127.5 M429,124.6 H434.5" stroke="#1e1e1e" stroke-width="1.0" fill="none" />
<defs><pattern id="hat" patternUnits="userSpaceOnUse" width="4" height="4" patternTransform="rotate(45)"><rect width="4" height="4" fill="#fdfdfd"/><line x1="0" y1="0" x2="0" y2="4" stroke="#1e1e1e" stroke-width="1.3"/></pattern></defs>
<circle cx="515.2" cy="264.5" r="28" stroke="#1e1e1e" stroke-width="1.5" fill="none"/>
<path d="M503,259 L516.2,259 L516.2,252 L537,252 L537,280 L524.7,280 L524.7,266 L516,262 L503,262 Z" stroke="#1e1e1e" stroke-width="1.2" fill="url(#hat)" />
<path d="M503,259 L524.7,262 L524.7,280 L503,280 Z" stroke="#1e1e1e" stroke-width="1.2" fill="url(#hat)" />
<path d="M531,262 L537,262 L537,280 L531,280 Z" stroke="#1e1e1e" stroke-width="1.0" fill="url(#hat)" />
<rect x="524.7" y="266" width="5.4" height="31" stroke="#1e1e1e" stroke-width="1.2" fill="#fdfdfd"/>
<line x1="527.5" y1="268" x2="527.5" y2="292" stroke="#1e1e1e" stroke-width="1.15" stroke-dasharray="2,2"/>
<rect x="516.2" y="236.8" width="4.6" height="22.5" stroke="#1e1e1e" stroke-width="1.0" fill="none"/>
<line x1="518.5" y1="237" x2="518.5" y2="259" stroke="#1e1e1e" stroke-width="1.61" stroke-dasharray="2,1"/>
<path d="M515.5,238 Q506,241 502.5,259" stroke="#1e1e1e" stroke-width="1.2" fill="none" />
<line x1="498.5" y1="259.5" x2="516.2" y2="259.5" stroke="#1e1e1e" stroke-width="1.38"/>
<path d="M498.5,259 Q495,268 496,279" stroke="#1e1e1e" stroke-width="1.2" fill="none" />
<line x1="494.6" y1="280.5" x2="537.9" y2="280.5" stroke="#1e1e1e" stroke-width="1.38"/>
<line x1="503.5" y1="259" x2="503.5" y2="280" stroke="#1e1e1e" stroke-width="1.38"/>
<line x1="536.3" y1="245.3" x2="540.5" y2="236.4" stroke="#1e1e1e" stroke-width="1.15"/>
<line x1="540.3" y1="236.5" x2="550.5" y2="236.5" stroke="#1e1e1e" stroke-width="1.26"/>
<line x1="545.5" y1="221" x2="545.5" y2="235.5" stroke="#1e1e1e" stroke-width="1.72"/>
<line x1="543.5" y1="221.5" x2="547.5" y2="221.5" stroke="#1e1e1e" stroke-width="1.26"/>
<line x1="537" y1="273.7" x2="554" y2="287" stroke="#1e1e1e" stroke-width="1.15"/>
<line x1="554" y1="287.5" x2="584" y2="287.5" stroke="#1e1e1e" stroke-width="1.15"/>
<line x1="524.5" y1="292" x2="524.5" y2="319" stroke="#1e1e1e" stroke-width="1.15"/>
<line x1="530.5" y1="292" x2="530.5" y2="319" stroke="#1e1e1e" stroke-width="1.15"/>
<line x1="509" y1="315.5" x2="575" y2="315.5" stroke="#1e1e1e" stroke-width="1.15"/>
<path d="M524.70,315.50 L520.20,316.90 L520.20,314.10 Z" fill="#1e1e1e"/>
<path d="M530.10,315.50 L534.60,314.10 L534.60,316.90 Z" fill="#1e1e1e"/>
<text transform="translate(542.75,312.50) scale(0.628,1)" font-family="Liberation Serif" font-size="20.21" fill="#1e1e1e" stroke="#1e1e1e" stroke-width="0.88">n</text>
<line x1="550.3" y1="308.5" x2="555.5" y2="308.5" stroke="#1e1e1e" stroke-width="1.49"/>
<text transform="translate(558.12,312.50) scale(0.457,1)" font-family="Liberation Serif" font-size="20.31" fill="#1e1e1e" stroke="#1e1e1e" stroke-width="0.88">M</text>
<text transform="translate(566.50,312.31) scale(0.726,1)" font-family="Liberation Serif" font-size="18.87" fill="#1e1e1e" stroke="#1e1e1e" stroke-width="0.88">b</text>
<text transform="translate(515.23,343.00) scale(0.480,1)" font-family="Liberation Serif" font-size="19.08" fill="#1e1e1e" stroke="#1e1e1e" stroke-width="0.62">D</text>
<text transform="translate(521.73,343.00) scale(0.469,1)" font-family="Liberation Serif" font-size="19.08" fill="#1e1e1e" stroke="#1e1e1e" stroke-width="0.62">N</text>
<path d="M530.60,331.50 L538.50,337.75 L530.60,341.50 M537.32,340.50 L530.60,344.00" stroke="#1e1e1e" stroke-width="1.2" fill="none" />
<text transform="translate(541.72,343.20) scale(0.726,1)" font-family="Liberation Serif" font-size="19.24" fill="#1e1e1e" stroke="#1e1e1e" stroke-width="0.62">4</text>
<text transform="translate(548.48,343.01) scale(0.696,1)" font-family="Liberation Serif" font-size="18.81" fill="#1e1e1e" stroke="#1e1e1e" stroke-width="0.62">0</text>
<text transform="translate(554.93,343.01) scale(0.759,1)" font-family="Liberation Serif" font-size="18.81" fill="#1e1e1e" stroke="#1e1e1e" stroke-width="0.62">0</text>
<line x1="184.5" y1="352.4" x2="184.5" y2="375.09999999999997" stroke="#1e1e1e" stroke-width="2.30"/>
<line x1="195.5" y1="352.7" x2="195.5" y2="374.7" stroke="#1e1e1e" stroke-width="1.95"/>
<line x1="183.7" y1="353.5" x2="197" y2="353.5" stroke="#1e1e1e" stroke-width="1.49"/>
<line x1="183.7" y1="373.5" x2="197" y2="373.5" stroke="#1e1e1e" stroke-width="1.49"/>
<path d="M189.02,355.78 L185.96,363.26" stroke="#1e1e1e" stroke-width="1.3" fill="none" />
<path d="M188.49,357.32 L191.95,357.76 L186.36,366.78" stroke="#1e1e1e" stroke-width="1.3" fill="none" />
<path d="M188.75,359.30 L194.34,366.78" stroke="#1e1e1e" stroke-width="1.3" fill="none" />
<path d="M189.29,367.00 L191.55,368.32" stroke="#1e1e1e" stroke-width="1.5" fill="none" />
<path d="M189.69,370.08 L191.95,372.06" stroke="#1e1e1e" stroke-width="1.5" fill="none" />
<line x1="202" y1="363.5" x2="217.7" y2="363.5" stroke="#1e1e1e" stroke-width="2.18"/>
<path d="M179,355 L172.3,363.8 L179,372.6" stroke="#1e1e1e" stroke-width="1.5" fill="none" />
<path d="M219.8,355 L226.5,363.8 L219.8,372.6" stroke="#1e1e1e" stroke-width="1.5" fill="none" />
<line x1="388.5" y1="351.9" x2="388.5" y2="375.79999999999995" stroke="#1e1e1e" stroke-width="2.30"/>
<line x1="398.5" y1="352.2" x2="398.5" y2="375.4" stroke="#1e1e1e" stroke-width="1.95"/>
<line x1="387.2" y1="353.5" x2="400.2" y2="353.5" stroke="#1e1e1e" stroke-width="1.49"/>
<line x1="387.2" y1="374.5" x2="400.2" y2="374.5" stroke="#1e1e1e" stroke-width="1.49"/>
<path d="M392.40,355.45 L389.41,363.34" stroke="#1e1e1e" stroke-width="1.3" fill="none" />
<path d="M391.88,357.07 L395.26,357.54 L389.80,367.05" stroke="#1e1e1e" stroke-width="1.3" fill="none" />
<path d="M392.14,359.16 L397.60,367.05" stroke="#1e1e1e" stroke-width="1.3" fill="none" />
<path d="M392.66,367.28 L394.87,368.67" stroke="#1e1e1e" stroke-width="1.5" fill="none" />
<path d="M393.05,370.53 L395.26,372.62" stroke="#1e1e1e" stroke-width="1.5" fill="none" />
<line x1="407.4" y1="357.5" x2="417.3" y2="357.5" stroke="#1e1e1e" stroke-width="2.07"/>
<line x1="405" y1="370.5" x2="420.4" y2="370.5" stroke="#1e1e1e" stroke-width="2.18"/>
<path d="M383,355.7 L376.1,363.5 L383,371.4" stroke="#1e1e1e" stroke-width="1.5" fill="none" />
<path d="M423,355.7 L429.9,363.5 L423,371.4" stroke="#1e1e1e" stroke-width="1.5" fill="none" />
<path d="M555.5,273.3 H564.2 M558.2,273.8 L555.8,280.5 M557,277 H559.8 L557,283.8 M556.8,279.8 L558.8,281.2 M561.6,275.5 V283.2 Q561.8,284.5 564.6,284.2 M564.2,277.2 L561.8,279.2" stroke="#1e1e1e" stroke-width="1.15" fill="none" />
<path d="M566,273.2 L567.2,274.4 M565.6,276.4 L567,277.6 M565.5,284 L567.6,279.2 M568.8,275.6 H573.6 M568.4,279.2 H574.2 M571.3,272.4 V279.2 M570.8,279.6 L568.8,284 L573.4,283.2 M572.4,281.4 L574,284.2" stroke="#1e1e1e" stroke-width="1.15" fill="none" />
<path d="M577.4,272.4 L578.5,274.2 M582.6,272.4 L581.5,274.2 M576.6,275.4 H583.4 M577.2,279.2 H582.8 M576,283.8 H584" stroke="#1e1e1e" stroke-width="1.15" fill="none" />
</svg></body></html>
